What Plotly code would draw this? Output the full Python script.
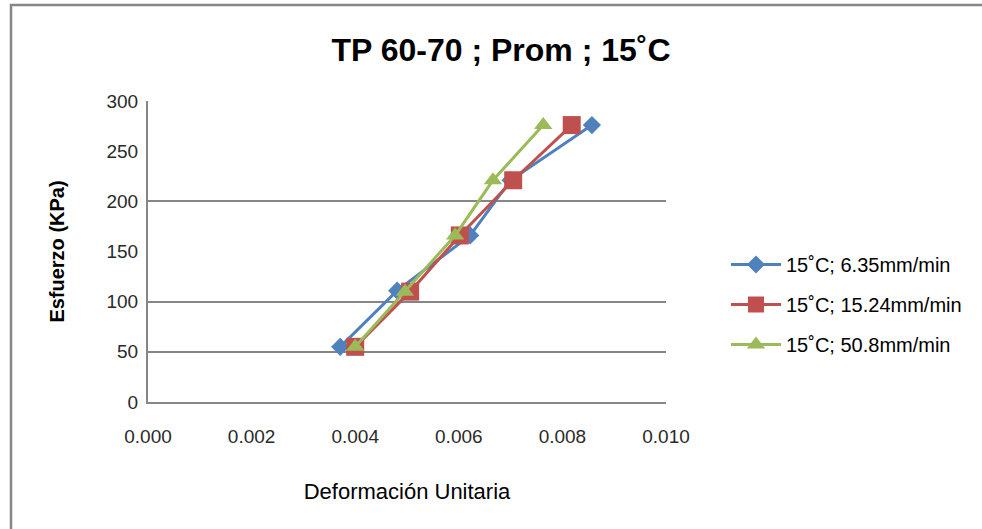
import plotly.graph_objects as go

strain_635 = [0.00371, 0.00481, 0.00622, 0.00700, 0.00857]
strain_1524 = [0.00400, 0.00506, 0.00602, 0.00705, 0.00818]
strain_508 = [0.00400, 0.00496, 0.00593, 0.00666, 0.00763]
stress_635 = [55, 111, 166, 221, 276]
stress_1524 = [55, 110, 166, 221, 276]
stress_508 = [55, 110, 166, 221, 276]
names = ["15˚C; 6.35mm/min", "15˚C; 15.24mm/min", "15˚C; 50.8mm/min"]
y_ticks = [0, 50, 100, 150, 200, 250, 300]
grid_vals = [50, 100, 200, 300]
x_ticks = [0.000, 0.002, 0.004, 0.006, 0.008, 0.010]

FONT = "Liberation Sans, Arial, sans-serif"
GRAY = "#868686"

fig = go.Figure()
series = [
    (strain_635, stress_635, "#4F81BD", "diamond", 14),
    (strain_1524, stress_1524, "#C0504D", "square", 18),
    (strain_508, stress_508, "#9BBB59", "triangle-up", 16),
]
for i, (xs, ys, col, sym, sz) in enumerate(series):
    fig.add_trace(go.Scatter(
        x=xs, y=ys, mode="lines+markers", name=names[i], legendgroup=f"g{i}",
        line=dict(color=col, width=3),
        marker=dict(symbol=sym, size=sz, color=col),
    ))

# helper axis to draw gridlines only
fig.add_trace(go.Scatter(x=[None], y=[None], yaxis="y2", showlegend=False, hoverinfo="skip"))

L, R, T, B = 148, 316, 101, 127
W, H = 982, 529
pw, ph = W - L - R, H - T - B

def px_x(p):
    return (p - L) / pw

def px_y(p):
    return (H - B - p) / ph

fig.update_layout(
    width=W, height=H,
    margin=dict(l=L, r=R, t=T, b=B),
    paper_bgcolor="white", plot_bgcolor="white",
    font=dict(family=FONT, color="#000000", size=15),
    title=dict(text="<b>TP 60-70 ; Prom ; 15˚C</b>", x=px_x(501), xref="paper", xanchor="center",
               y=1 - 50 / H, yanchor="middle",
               font=dict(size=32, family=FONT, color="#000000")),
    xaxis=dict(range=[0, 0.010], tickvals=x_ticks, ticktext=[f"{v:.3f}" for v in x_ticks],
               showgrid=False, zeroline=False, showline=True, linecolor=GRAY, linewidth=2,
               ticks="", ticklabelstandoff=16, tickfont=dict(size=19, color="#2a2a2a"),
               title=dict(text="Deformación Unitaria", standoff=38,
                          font=dict(size=22, color="#000"))),
    yaxis=dict(range=[0, 300], tickvals=y_ticks, showgrid=False, zeroline=False,
               showline=True, linecolor=GRAY, linewidth=2, ticks="", ticklabelstandoff=4,
               tickfont=dict(size=19, color="#2a2a2a"),
               title=dict(text="<b>Esfuerzo (KPa)</b>", standoff=36, font=dict(size=20))),
    yaxis2=dict(range=[0, 300], overlaying="y", tickvals=grid_vals, showgrid=True,
                gridcolor=GRAY, gridwidth=2, showticklabels=False, zeroline=False,
                showline=False, ticks=""),
    legend=dict(x=px_x(726), y=px_y(245), xanchor="left", yanchor="top",
                font=dict(size=20, color="#000"), tracegroupgap=11, itemwidth=50,
                traceorder="grouped", bgcolor="rgba(0,0,0,0)"),
    shapes=[dict(type="rect", xref="paper", yref="paper",
                 x0=px_x(11), x1=px_x(1100), y0=px_y(600), y1=px_y(5),
                 line=dict(color=GRAY, width=2.5), layer="below")],
)
fig.update_layout(yaxis_layer="above traces")
fig.write_html("out.html")
